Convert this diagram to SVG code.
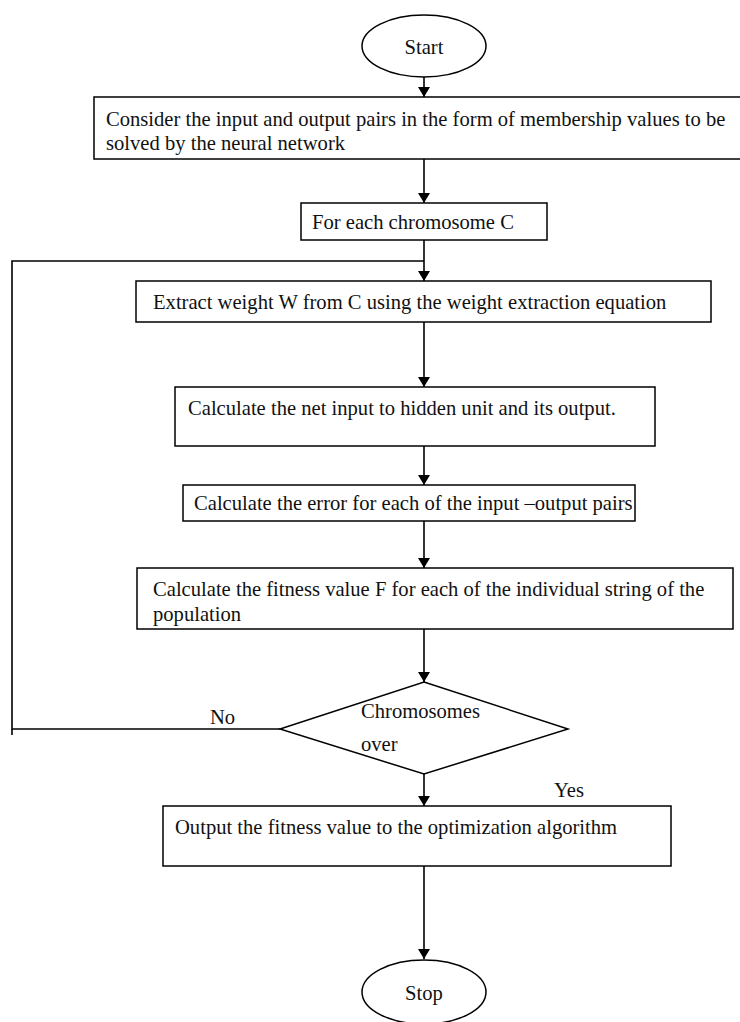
<svg xmlns="http://www.w3.org/2000/svg" width="740" height="1022" viewBox="0 0 740 1022">
<defs>
<marker id="ah" viewBox="0 0 10 12" refX="10" refY="6" markerWidth="10" markerHeight="12" markerUnits="userSpaceOnUse" orient="auto">
<path d="M0,0 L10,6 L0,12 Z" fill="#000"/>
</marker>
<clipPath id="c6"><rect x="137" y="568" width="600" height="60"/></clipPath>
</defs>
<style>
.n{fill:#fff;stroke:#000;stroke-width:1.5}
.t{font-family:"Liberation Serif","Times New Roman",serif;font-size:20.6px;fill:#111}
.e{fill:none;stroke:#000;stroke-width:1.6}
</style>
<rect width="740" height="1022" fill="#fff"/>
<g id="connectors">
<line class="e" x1="424" y1="77" x2="424" y2="97" marker-end="url(#ah)"/>
<line class="e" x1="424" y1="159" x2="424" y2="203" marker-end="url(#ah)"/>
<line class="e" x1="424" y1="240" x2="424" y2="281" marker-end="url(#ah)"/>
<polyline class="e" points="280,729 12,729 12,261 424,261"/>
<line class="e" x1="12" y1="729" x2="12" y2="735"/>
<line class="e" x1="424" y1="322" x2="424" y2="387" marker-end="url(#ah)"/>
<line class="e" x1="424" y1="446" x2="424" y2="485" marker-end="url(#ah)"/>
<line class="e" x1="424" y1="521" x2="424" y2="568" marker-end="url(#ah)"/>
<line class="e" x1="424" y1="629" x2="424" y2="682" marker-end="url(#ah)"/>
<line class="e" x1="424" y1="774" x2="424" y2="806" marker-end="url(#ah)"/>
<line class="e" x1="424" y1="866" x2="424" y2="959" marker-end="url(#ah)"/>
<text class="t" x="210" y="724">No</text>
<text class="t" x="554" y="797">Yes</text>
</g>
<g id="start">
<ellipse class="n" cx="424" cy="46" rx="62" ry="31"/>
<text class="t" x="424" y="54" text-anchor="middle">Start</text>
</g>
<g id="consider">
<rect class="n" x="94" y="97" width="660" height="62"/>
<text class="t" x="106" y="126">Consider the input and output pairs in the form of membership values to be</text>
<text class="t" x="106" y="150">solved by the neural network</text>
</g>
<g id="foreach">
<rect class="n" x="301" y="203" width="246" height="37"/>
<text class="t" x="312" y="229">For each chromosome C</text>
</g>
<g id="extract">
<rect class="n" x="136" y="281" width="575" height="41"/>
<text class="t" x="153" y="309">Extract weight W from C using the weight extraction equation</text>
</g>
<g id="netinput">
<rect class="n" x="175" y="387" width="480" height="59"/>
<text class="t" x="188" y="415">Calculate the net input to hidden unit and its output.</text>
</g>
<g id="error">
<rect class="n" x="183" y="485" width="452" height="36"/>
<text class="t" x="194" y="510">Calculate the error for each of the input –output pairs</text>
</g>
<g id="fitness">
<rect class="n" x="137" y="568" width="596" height="61"/>
<g clip-path="url(#c6)">
<text class="t" x="153" y="596">Calculate the fitness value F for each of the individual string of the</text>
<text class="t" x="153" y="621">population</text>
</g>
</g>
<g id="decision">
<polygon class="n" points="424,682 568,729 424,774 280,729"/>
<text class="t" x="361" y="718">Chromosomes</text>
<text class="t" x="361" y="751">over</text>
</g>
<g id="output">
<rect class="n" x="163" y="806" width="508" height="60"/>
<text class="t" x="175" y="834">Output the fitness value to the optimization algorithm</text>
</g>
<g id="stop">
<ellipse class="n" cx="424" cy="992" rx="62" ry="32"/>
<text class="t" x="424" y="1000" text-anchor="middle">Stop</text>
</g>
</svg>
